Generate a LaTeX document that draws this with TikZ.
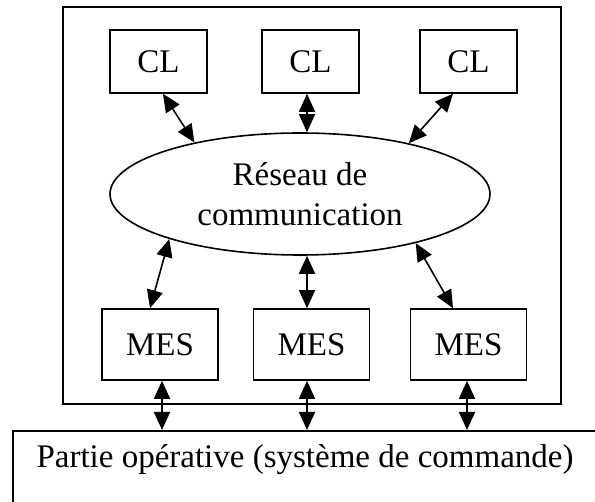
\documentclass[tikz,border=0pt]{standalone}
\usepackage{fontspec}
\setmainfont{Liberation Serif}
\usetikzlibrary{arrows.meta,shapes.geometric}
\begin{document}
\begin{tikzpicture}[x=1pt,y=-1pt,
  every node/.style={font=\fontsize{33}{38}\selectfont},
  unit/.style={draw,line width=1.6pt,inner sep=0pt,minimum width=97pt,minimum height=63pt},
  mes/.style={draw,line width=1.6pt,inner sep=0pt,minimum width=116pt,minimum height=71pt},
  dbl/.style={line width=1.6pt,{Triangle[length=18pt,width=16pt]}-{Triangle[length=18pt,width=16pt]}}]
\useasboundingbox (0,0) rectangle (595,502);
\clip (0,0) rectangle (595,502);
% enclosing system frame
\node[draw,line width=1.6pt,inner sep=0pt,minimum width=498pt,minimum height=397pt] (sys) at (312,205.5) {};
% local control units
\node[unit] (cl1) at (158.5,61.5) {CL};
\node[unit] (cl2) at (310.5,61.5) {CL};
\node[unit] (cl3) at (468.5,61.5) {CL};
% communication network
\node[draw,ellipse,line width=1.6pt,inner sep=0pt,minimum width=380pt,minimum height=122pt,align=center,
  font=\fontsize{33}{40}\selectfont] (net) at (300,194) {Réseau de\\communication};
% MES units
\node[mes] (mes1) at (160,344.5) {MES};
\node[mes] (mes2) at (311.5,344.5) {MES};
\node[mes] (mes3) at (468.5,344.5) {MES};
% operative part (runs off the page edge)
\node[draw,line width=1.6pt,inner sep=0pt,minimum width=620pt,minimum height=110pt,anchor=north west] (part) at (12,430) {};
\node (parttext) at (305,460) {Partie opérative (système de commande)};
% links between CL units and the network
\draw[dbl] ([xshift=4.5pt]cl1.south) -- (net.154.8);
\draw[dbl] ([xshift=-3.5pt]cl2.south) -- ([xshift=-3.5pt]cl2.south |- net.north);
\draw[dbl] ([xshift=-15.5pt]cl3.south) -- (net.25.2);
% links between the network and MES units
\draw[dbl] (net.199.7) -- ([xshift=-10pt]mes1.north);
\draw[dbl] ([xshift=-4.5pt]mes2.north |- net.south) -- ([xshift=-4.5pt]mes2.north);
\draw[dbl] (net.337.1) -- ([xshift=-15.5pt]mes3.north);
% links between MES units and the operative part
\draw[dbl] ([xshift=2pt]mes1.south) -- ([xshift=2pt]mes1.south |- part.north);
\draw[dbl] ([xshift=-4.5pt]mes2.south) -- ([xshift=-4.5pt]mes2.south |- part.north);
\draw[dbl] ([xshift=-1.5pt]mes3.south) -- ([xshift=-1.5pt]mes3.south |- part.north);
\end{tikzpicture}
\end{document}
